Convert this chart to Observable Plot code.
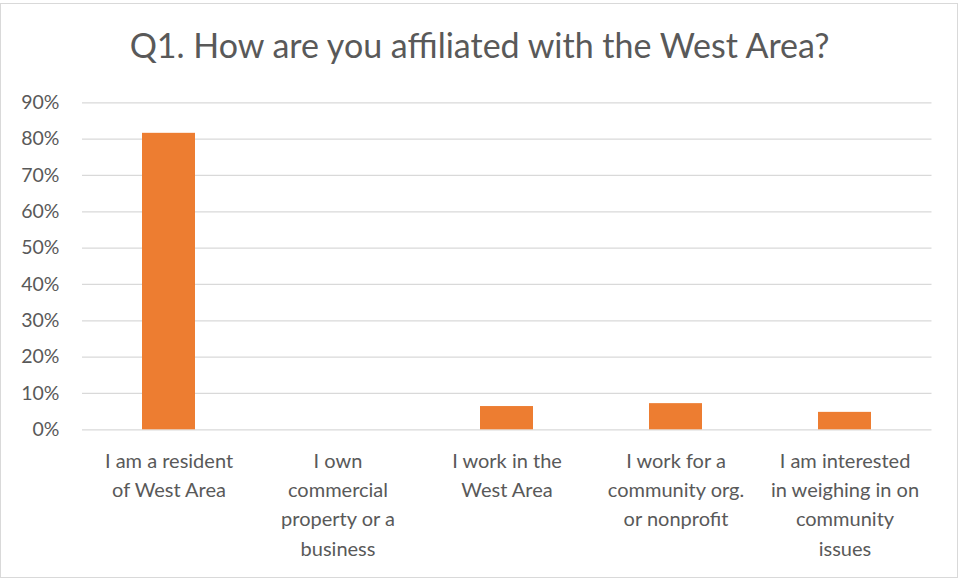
<!DOCTYPE html>
<html><head><meta charset="utf-8">
<script src="https://cdn.jsdelivr.net/npm/d3@7"></script>
<script src="https://cdn.jsdelivr.net/npm/@observablehq/plot@0.6"></script>
<style>
html,body{margin:0;padding:0;background:#fff;}
#wrap{position:relative;width:959px;height:579px;overflow:hidden;}
#frame{position:absolute;left:0;top:3px;width:958px;height:575px;border:1px solid #d9d9d9;box-sizing:border-box;}
#title{position:absolute;left:0;top:25px;width:959px;text-align:center;font-family:Lato,sans-serif;font-size:34px;line-height:40px;color:#595959;white-space:nowrap;}
#chart{position:absolute;left:0;top:0;}
</style>
</head><body>
<div id="wrap">
  <div id="frame"></div>
  <div id="title">Q1. How are you affiliated with the West Area?</div>
  <div id="chart"></div>
</div>
<script>
const titleText = "Q1. How are you affiliated with the West Area?";
const categories = [
  "I am a resident\nof West Area",
  "I own\ncommercial\nproperty or a\nbusiness",
  "I work in the\nWest Area",
  "I work for a\ncommunity org.\nor nonprofit",
  "I am interested\nin weighing in on\ncommunity\nissues"
];
const shares = [0.816, 0, 0.064, 0.072, 0.048];
const yTicks = [0, 0.1, 0.2, 0.3, 0.4, 0.5, 0.6, 0.7, 0.8, 0.9];

const data = categories.map((c, i) => ({category: c, share: shares[i]}));

const chart = Plot.plot({
  width: 959,
  height: 579,
  marginTop: 102.3,
  marginBottom: 149.7,
  marginLeft: 82,
  marginRight: 27.5,
  style: {fontFamily: "Lato, sans-serif", fontSize: "19px", color: "#595959", background: "transparent"},
  x: {domain: categories, paddingInner: 0.688, paddingOuter: 0.344, label: null},
  y: {domain: [0, 0.9], label: null},
  marks: [
    Plot.gridY(yTicks, {stroke: "#d9d9d9", strokeOpacity: 1, strokeWidth: 1.3}),
    Plot.barY(data, {x: "category", y: "share", fill: "#ED7D31"}),
    Plot.axisY({ticks: yTicks, tickSize: 0, tickPadding: 23, tickFormat: d3.format(".0%"), label: null, fontSize: 19.5}),
    Plot.axisX({tickSize: 0, tickPadding: 17, lineHeight: 1.47, label: null, fontSize: 20})
  ]
});
document.getElementById("chart").appendChild(chart);
</script>
</body></html>
